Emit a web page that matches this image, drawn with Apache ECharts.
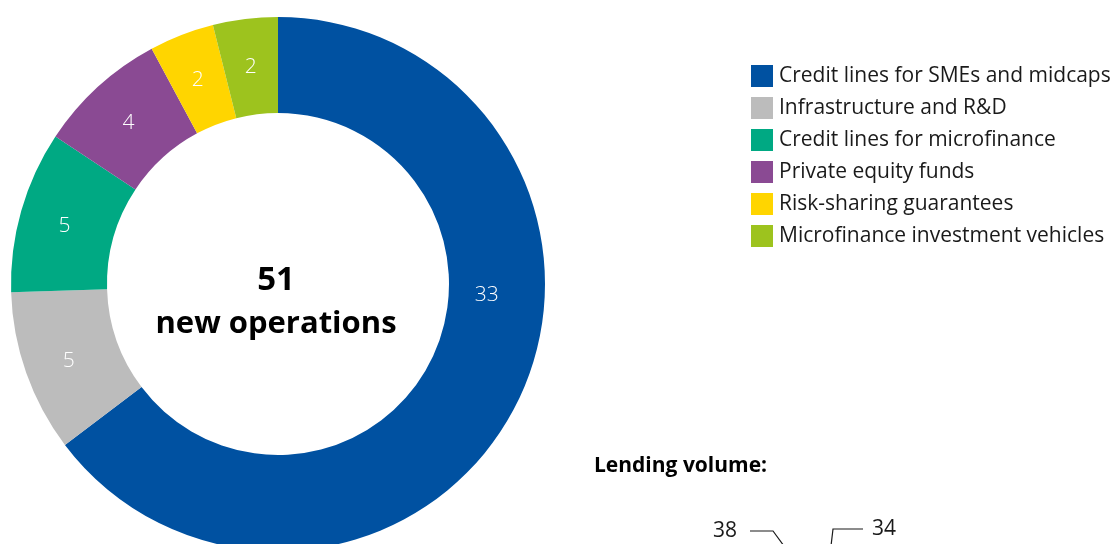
<!DOCTYPE html>
<html>
<head>
<meta charset="utf-8">
<script src="https://cdn.jsdelivr.net/npm/echarts@6/dist/echarts.min.js"></script>
<style>
  html, body { margin: 0; padding: 0; background: #ffffff; }
  #chart { width: 1118px; height: 544px; }
</style>
</head>
<body>
<div id="chart"></div>
<script>
// New operations by type (count)
const categories = [
  'Credit lines for SMEs and midcaps',
  'Infrastructure and R&D',
  'Credit lines for microfinance',
  'Private equity funds',
  'Risk-sharing guarantees',
  'Microfinance investment vehicles'
];
const operations = [33, 5, 5, 4, 2, 2];
const colors = ['#0051a1', '#bcbcbc', '#00a983', '#8a4a93', '#ffd500', '#9dc31e'];

// Lending volume figures visible at the bottom edge
const lendingLabels = ['38', '34'];

const FONT = '"Open Sans", "Noto Sans", sans-serif';
const total = operations.reduce((a, b) => a + b, 0);

const CX = 278, CY = 284, R_IN = 171, R_OUT = 267;

const chart = echarts.init(document.getElementById('chart'), null, { renderer: 'canvas' });

chart.setOption({
  animation: false,
  backgroundColor: '#ffffff',
  color: colors,
  legend: {
    orient: 'vertical',
    left: 751,
    top: 65,
    padding: 0,
    itemWidth: 22,
    itemHeight: 22,
    itemGap: 10,
    icon: 'rect',
    selectedMode: false,
    textStyle: { fontFamily: FONT, fontSize: 21, color: '#1a1a1a', padding: [9, 0, 0, 1] },
    data: categories
  },
  series: [{
    type: 'pie',
    center: [CX, CY],
    radius: [R_IN, R_OUT],
    startAngle: 90,
    clockwise: true,
    avoidLabelOverlap: false,
    itemStyle: { borderWidth: 0 },
    label: {
      show: true,
      position: 'inside',
      formatter: '{c}',
      color: '#ffffff',
      fontFamily: FONT,
      fontSize: 21,
      fontWeight: 300
    },
    labelLine: { show: false },
    // the large slice carries its label near the 3 o'clock position of the ring
    labelLayout: function (params) {
      if (params.dataIndex === 0) {
        const a = (93 - 90) * Math.PI / 180;
        const r = 209;
        return { x: CX + r * Math.cos(a), y: CY + r * Math.sin(a) };
      }
      return { dy: 3 };
    },
    emphasis: { disabled: true },
    data: categories.map((name, i) => ({ name, value: operations[i] }))
  }],
  graphic: [
    {
      type: 'text', x: 276, y: 281,
      style: { text: String(total), textAlign: 'center', textVerticalAlign: 'middle', fontFamily: FONT, fontWeight: 'bold', fontSize: 33, fill: '#000000' }
    },
    {
      type: 'text', x: 276, y: 324,
      style: { text: 'new operations', textAlign: 'center', textVerticalAlign: 'middle', fontFamily: FONT, fontWeight: 'bold', fontSize: 31, fill: '#000000' }
    },
    {
      type: 'text', x: 594, y: 466,
      style: { text: 'Lending volume:', textVerticalAlign: 'middle', fontFamily: FONT, fontWeight: 'bold', fontSize: 21, fill: '#000000' }
    },
    {
      type: 'text', x: 713, y: 531,
      style: { text: lendingLabels[0], textVerticalAlign: 'middle', fontFamily: FONT, fontSize: 21, fill: '#1a1a1a' }
    },
    {
      type: 'text', x: 872, y: 529,
      style: { text: lendingLabels[1], textVerticalAlign: 'middle', fontFamily: FONT, fontSize: 21, fill: '#1a1a1a' }
    },
    {
      type: 'polyline',
      shape: { points: [[750, 531], [773, 531], [784, 546]] },
      style: { stroke: '#1a1a1a', lineWidth: 1.2, fill: null }
    },
    {
      type: 'polyline',
      shape: { points: [[863, 529], [833, 529], [831, 546]] },
      style: { stroke: '#1a1a1a', lineWidth: 1.2, fill: null }
    }
  ]
});
</script>
</body>
</html>
